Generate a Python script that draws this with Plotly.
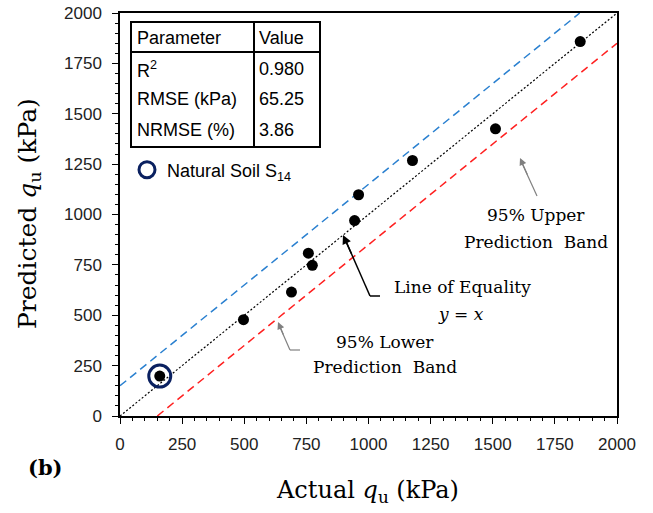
import plotly.graph_objects as go

# ---- data ----
actual_qu = [160, 497, 690, 758, 774, 944, 960, 1177, 1511, 1852]
predicted_qu = [198, 478, 615, 808, 748, 970, 1098, 1268, 1425, 1858]
natural_x = [160]
natural_y = [198]
equality_x = [0, 2000]
equality_y = [0, 2000]
upper_x = [0, 1850]
upper_y = [150, 2000]
lower_x = [150, 2000]
lower_y = [0, 1850]
tick_vals = [0, 250, 500, 750, 1000, 1250, 1500, 1750, 2000]
table_params = ["R<sup>2</sup>", "RMSE (kPa)", "NRMSE (%)"]
table_values = ["0.980", "65.25", "3.86"]

W, H = 653, 513
L, R, T, B = 120, 617, 13, 416


def px(x):
    return (x - L) / (R - L)


def py(y):
    return (B - y) / (B - T)


SANS = "Liberation Sans, Arial, sans-serif"
SERIF = "DejaVu Serif, serif"

fig = go.Figure()
fig.add_trace(go.Scatter(x=upper_x, y=upper_y, mode="lines", showlegend=False,
                         line=dict(color="#2a80d0", width=1.5, dash="8px,5px")))
fig.add_trace(go.Scatter(x=lower_x, y=lower_y, mode="lines", showlegend=False,
                         line=dict(color="#ff2020", width=1.5, dash="8px,5px")))
fig.add_trace(go.Scatter(x=equality_x, y=equality_y, mode="lines", showlegend=False,
                         line=dict(color="black", width=1.2, dash="2px,2px")))
fig.add_trace(go.Scatter(x=actual_qu, y=predicted_qu, mode="markers", showlegend=False,
                         marker=dict(color="black", size=11)))
fig.add_trace(go.Scatter(x=natural_x, y=natural_y, mode="markers",
                         name="Natural Soil S<sub>14</sub>",
                         marker=dict(symbol="circle-open", color="#0a2060", size=22,
                                     line=dict(width=3, color="#0a2060"))))

axis_common = dict(
    range=[0, 2000], tickvals=tick_vals, showgrid=False, zeroline=False,
    showline=True, linecolor="black", linewidth=1.5, mirror=True, automargin=False,
    ticks="outside", ticklen=6, tickwidth=1.2, tickcolor="black",
    tickfont=dict(family=SANS, size=17, color="#222"),
    minor=dict(dtick=50, ticks="outside", ticklen=3, tickwidth=1, tickcolor="black"),
)
fig.update_xaxes(**axis_common, ticklabelstandoff=6)
fig.update_yaxes(**axis_common, ticklabelstandoff=7)

# overlay axes giving the inward half of the crossing major ticks
inner = dict(range=[0, 2000], tickvals=tick_vals, showgrid=False, zeroline=False,
             showline=False, showticklabels=False, automargin=False,
             ticks="inside", ticklen=5, tickwidth=1.2, tickcolor="black")
fig.update_layout(
    xaxis2=dict(**inner, overlaying="x", anchor="y"),
    yaxis2=dict(**inner, overlaying="y", anchor="x"),
)

ann = []


def text_at(x, y, text, family, size, xanchor="center", angle=0):
    ann.append(dict(x=px(x), y=py(y), xref="paper", yref="paper", showarrow=False,
                    xanchor=xanchor, yanchor="middle", textangle=angle, text=text,
                    font=dict(family=family, size=size, color="black")))


# axis titles
text_at(367, 491, "Actual <i>q</i><sub>u</sub> (kPa)", SERIF, 24)
text_at(29, 214, "Predicted <i>q</i><sub>u</sub> (kPa)", SERIF, 25, angle=-90)
text_at(45, 468, "<b>(b)</b>", SERIF, 21)

# table
text_at(135, 38, "Parameter", SANS, 18, xanchor="left")
text_at(257, 38, "Value", SANS, 18, xanchor="left")
for i, (p, v) in enumerate(zip(table_params, table_values)):
    yy = 69 + i * 30.5
    text_at(135, yy, p, SANS, 18, xanchor="left")
    text_at(257, yy, v, SANS, 18, xanchor="left")

# band / equality labels
text_at(536, 215, "95% Upper", SERIF, 17)
text_at(536, 242, "Prediction  Band", SERIF, 17)
text_at(462, 287, "Line of Equality", SERIF, 17)
text_at(461, 314, "<i>y</i> = <i>x</i>", SERIF, 17)
text_at(385, 342, "95% Lower", SERIF, 17)
text_at(385, 367, "Prediction  Band", SERIF, 17)

# arrow heads (shafts drawn as shapes below)
ann.append(dict(x=px(520), y=py(158), xref="paper", yref="paper", ax=8, ay=18, text="",
                showarrow=True, arrowhead=2, arrowsize=1.2, arrowwidth=1.2, arrowcolor="#808080"))
ann.append(dict(x=px(343), y=py(235), xref="paper", yref="paper", ax=9, ay=20, text="",
                showarrow=True, arrowhead=2, arrowsize=1.2, arrowwidth=1.5, arrowcolor="black"))
ann.append(dict(x=px(278), y=py(322), xref="paper", yref="paper", ax=6, ay=14, text="",
                showarrow=True, arrowhead=2, arrowsize=1.2, arrowwidth=1.2, arrowcolor="#808080"))


def seg(x0, y0, x1, y1, color, width):
    return dict(type="line", xref="paper", yref="paper", x0=px(x0), x1=px(x1), y0=py(y0), y1=py(y1),
                line=dict(color=color, width=width))


shapes = [
    dict(type="rect", xref="paper", yref="paper", x0=px(131), x1=px(320), y0=py(22), y1=py(147),
         line=dict(color="black", width=2), fillcolor="white", layer="above"),
    seg(131, 52, 320, 52, "black", 2),
    seg(254, 22, 254, 147, "black", 2),
    # arrow shafts
    seg(537, 196, 521, 161, "#808080", 1.2),
    seg(380, 296, 370, 296, "black", 1.5),
    seg(370, 296, 345, 239, "black", 1.5),
    seg(300, 350, 290, 350, "#808080", 1.2),
    seg(290, 350, 279, 325, "#808080", 1.2),
]

fig.update_layout(
    width=W, height=H,
    margin=dict(l=L, r=W - R, t=T, b=H - B),
    paper_bgcolor="white", plot_bgcolor="white",
    annotations=ann, shapes=shapes,
    showlegend=True,
    legend=dict(x=px(127), y=py(170), xanchor="left", yanchor="middle", bgcolor="rgba(0,0,0,0)",
                font=dict(family=SANS, size=18, color="black"), itemsizing="trace"),
)

fig.write_html("out.html")
